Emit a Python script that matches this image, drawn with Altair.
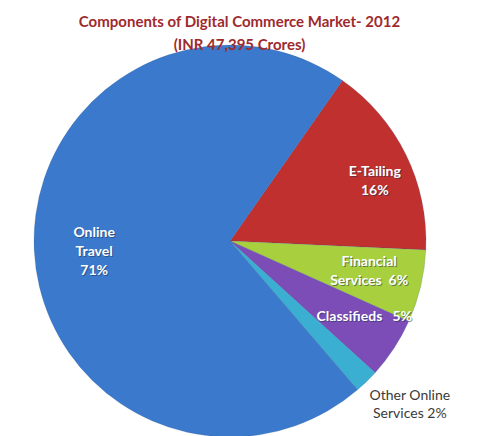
import math
import altair as alt
import pandas as pd

categories = ["E-Tailing", "Financial Services", "Classifieds", "Other Online Services", "Online Travel"]
shares = [16, 6, 5, 2, 71]
labels = ["E-Tailing\n16%", "Financial\nServices\u00a0\u00a06%", "Classifieds\u00a0\u00a0\u00a05%",
          "Other Online\nServices 2%", "Online\nTravel\n71%"]
colors = ["#C0302E", "#A8D03E", "#7D4DB7", "#3AAFD2", "#3B79CC"]

df = pd.DataFrame({"cat": categories, "share": shares, "label": labels,
                   "idx": list(range(len(categories)))})

start = math.radians(35)
theta_scale = alt.Scale(domain=[0, 100], range=[start, start + 2 * math.pi])

PAD_TOP = 50
CX, CY, R = 222, 241 - 8 - PAD_TOP, 196

base = alt.Chart(df)

arcs = base.mark_arc(radius=R, stroke="#2a4f80", strokeWidth=0.4, strokeOpacity=0.5).encode(
    theta=alt.Theta("share:Q", stack=True, scale=theta_scale),
    order=alt.Order("idx:Q"),
    color=alt.Color("cat:N", scale=alt.Scale(domain=categories, range=colors), legend=None),
    x=alt.value(CX), y=alt.value(CY),
)

lab = base.transform_window(
    cum="sum(share)", sort=[alt.SortField("idx")]
).transform_calculate(mid="datum.cum - datum.share / 2")

# radius, colour, dx, dy (label placement around slice centroid)
spec = {
    "E-Tailing": (158, "white", 3, 1),
    "Financial Services": (142, "white", 1, -12),
    "Classifieds": (151, "white", 8, -7),
    "Other Online Services": (235, "#3a3a3a", 16, -13),
    "Online Travel": (137, "white", 1, -15),
}

layers = [arcs]
for cat, (rad, col, ddx, ddy) in spec.items():
    t = lab.transform_filter(alt.datum.cat == cat)
    enc = dict(theta=alt.Theta("mid:Q", scale=theta_scale, stack=None), text="label:N",
               x=alt.value(CX), y=alt.value(CY))
    if col == "white":
        layers.append(t.mark_text(radius=rad, font="Lato", fontWeight="bold", fontSize=14,
                                  lineBreak="\n", lineHeight=19, color="#1d2f4a", opacity=0.5,
                                  dx=ddx + 1, dy=ddy + 1).encode(**enc))
        layers.append(t.mark_text(radius=rad, font="Lato", fontWeight="bold", fontSize=14,
                                  lineBreak="\n", lineHeight=19, color=col,
                                  dx=ddx, dy=ddy).encode(**enc))
    else:
        layers.append(t.mark_text(radius=rad, font="Lato", fontSize=14,
                                  lineBreak="\n", lineHeight=18, color=col,
                                  dx=ddx, dy=ddy).encode(**enc))

chart = alt.layer(*layers).properties(
    width=463, height=436 - 8 - PAD_TOP,
    autosize=alt.AutoSizeParams(type="none"),
    padding={"top": PAD_TOP, "left": 0, "right": 0, "bottom": 0},
    title=alt.TitleParams(["Components of Digital Commerce Market- 2012", "(INR 47,395  Crores)"],
                          font="Lato", fontSize=15, fontWeight="bold", color="#9E2A2E",
                          anchor="middle", lineHeight=23, offset=6, dy=15, frame="group"),
).configure(background="white").configure_view(stroke="transparent", strokeWidth=0)

chart.save("out.html", embed_options={"renderer": "svg", "actions": False})
